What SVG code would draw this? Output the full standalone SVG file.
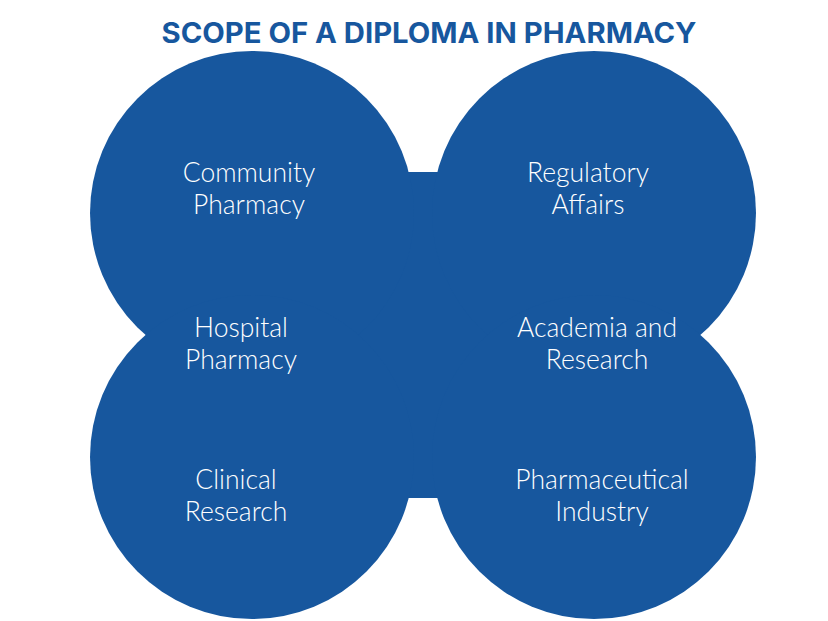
<svg xmlns="http://www.w3.org/2000/svg" width="828" height="621" viewBox="0 0 828 621">
<style>
.blob{fill:#17579e}
.t{font-family:Lato,"Open Sans","Liberation Sans",sans-serif;font-size:26.5px;font-weight:300;fill:#ffffff;text-anchor:middle}
.title{font-family:Inter,"Liberation Sans",sans-serif;font-size:28px;font-weight:700;fill:#17579e;text-anchor:middle}
</style>
<rect width="828" height="621" fill="#ffffff"/>
<text class="title" x="429" y="43" textLength="535" lengthAdjust="spacingAndGlyphs">SCOPE OF A DIPLOMA IN PHARMACY</text>
<g id="connectors">
<rect class="blob" x="300" y="172" width="245" height="326"/>
</g>
<g id="community">
<circle class="blob" cx="252" cy="213" r="162"/>
</g>
<g id="regulatory">
<circle class="blob" cx="594" cy="213" r="162"/>
</g>
<g id="clinical">
<circle class="blob" cx="252" cy="457" r="162"/>
</g>
<g id="industry">
<circle class="blob" cx="594" cy="457" r="162"/>
</g>
<g id="labels">
<text class="t" x="249" y="182">Community</text>
<text class="t" x="249" y="214">Pharmacy</text>
<text class="t" x="588" y="182">Regulatory</text>
<text class="t" x="588" y="214">Affairs</text>
<text class="t" x="241" y="337">Hospital</text>
<text class="t" x="241" y="369">Pharmacy</text>
<text class="t" x="597" y="337">Academia and</text>
<text class="t" x="597" y="369">Research</text>
<text class="t" x="236" y="489">Clinical</text>
<text class="t" x="236" y="521">Research</text>
<text class="t" x="602" y="489">Pharmaceutical</text>
<text class="t" x="602" y="521">Industry</text>
</g>
</svg>
